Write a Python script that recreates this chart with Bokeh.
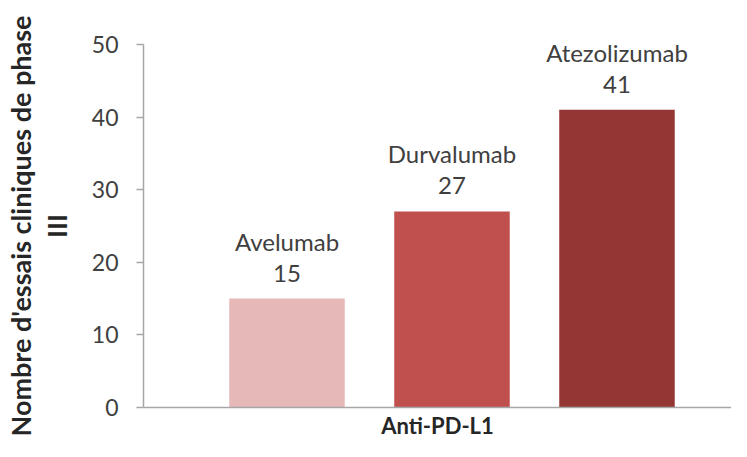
from bokeh.plotting import figure
from bokeh.models import ColumnDataSource, FixedTicker, Range1d, LabelSet
from bokeh.core.properties import value
from bokeh.embed import file_html
from bokeh.resources import INLINE

# Data
drugs = ["Avelumab", "Durvalumab", "Atezolizumab"]
trials = [15, 27, 41]
colors = ["#E6B9B8", "#C0504D", "#943634"]
y_ticks = [0, 10, 20, 30, 40, 50]
x_label = "Anti-PD-L1"
y_label = "Nombre d'essais cliniques de phase\nIII"

FONT = "Lato"

xs = [i + 1 for i in range(len(drugs))]
src = ColumnDataSource(dict(x=xs, top=trials, color=colors, name=drugs,
                            num=[str(v) for v in trials]))

p = figure(width=731, height=441, output_backend="svg", toolbar_location=None,
           x_range=Range1d(0.1303, 3.694), y_range=Range1d(0, 50))
p.min_border_left = 143
p.min_border_right = 0
p.min_border_top = 44
p.min_border_bottom = 30
p.outline_line_color = None
p.xgrid.visible = False
p.ygrid.visible = False

p.vbar(x="x", top="top", bottom=0, width=0.7, color="color", source=src, line_color=None)

for col, off in (("num", 17), ("name", 48)):
    p.add_layout(LabelSet(x="x", y="top", text=col, source=src, text_align="center",
                          text_baseline="alphabetic", y_offset=off,
                          text_font=value(FONT), text_font_size=value("24px"),
                          text_color=value("#404040")))

ax = p.yaxis[0]
ax.ticker = FixedTicker(ticks=y_ticks)
ax.minor_tick_line_color = None
ax.major_tick_in = 0
ax.major_tick_out = 7
ax.axis_line_color = "#A6A6A6"
ax.axis_line_width = 1.5
ax.major_tick_line_color = "#A6A6A6"
ax.major_tick_line_width = 1.5
ax.major_label_text_font = FONT
ax.major_label_text_font_size = "23px"
ax.major_label_text_color = "#404040"
ax.major_label_standoff = 18
ax.axis_label = y_label
ax.axis_label_text_font = FONT
ax.axis_label_text_font_style = "bold"
ax.axis_label_text_font_size = "27px"
ax.axis_label_text_color = "#262626"
ax.axis_label_text_line_height = 1.1
ax.axis_label_standoff = 16

xa = p.xaxis[0]
xa.ticker = FixedTicker(ticks=[])
xa.major_label_text_font_size = "0px"
xa.major_label_standoff = 0
xa.major_tick_out = 0
xa.major_tick_in = 0
xa.minor_tick_out = 0
xa.minor_tick_in = 0
xa.minor_tick_line_color = None
xa.major_tick_line_color = None
xa.axis_line_color = "#A6A6A6"
xa.axis_line_width = 1.5
xa.axis_label = x_label
xa.axis_label_text_font = FONT
xa.axis_label_text_font_style = "bold"
xa.axis_label_text_font_size = "22px"
xa.axis_label_text_color = "#262626"
xa.axis_label_standoff = 4

open("out.html", "w").write(file_html(p, INLINE))
